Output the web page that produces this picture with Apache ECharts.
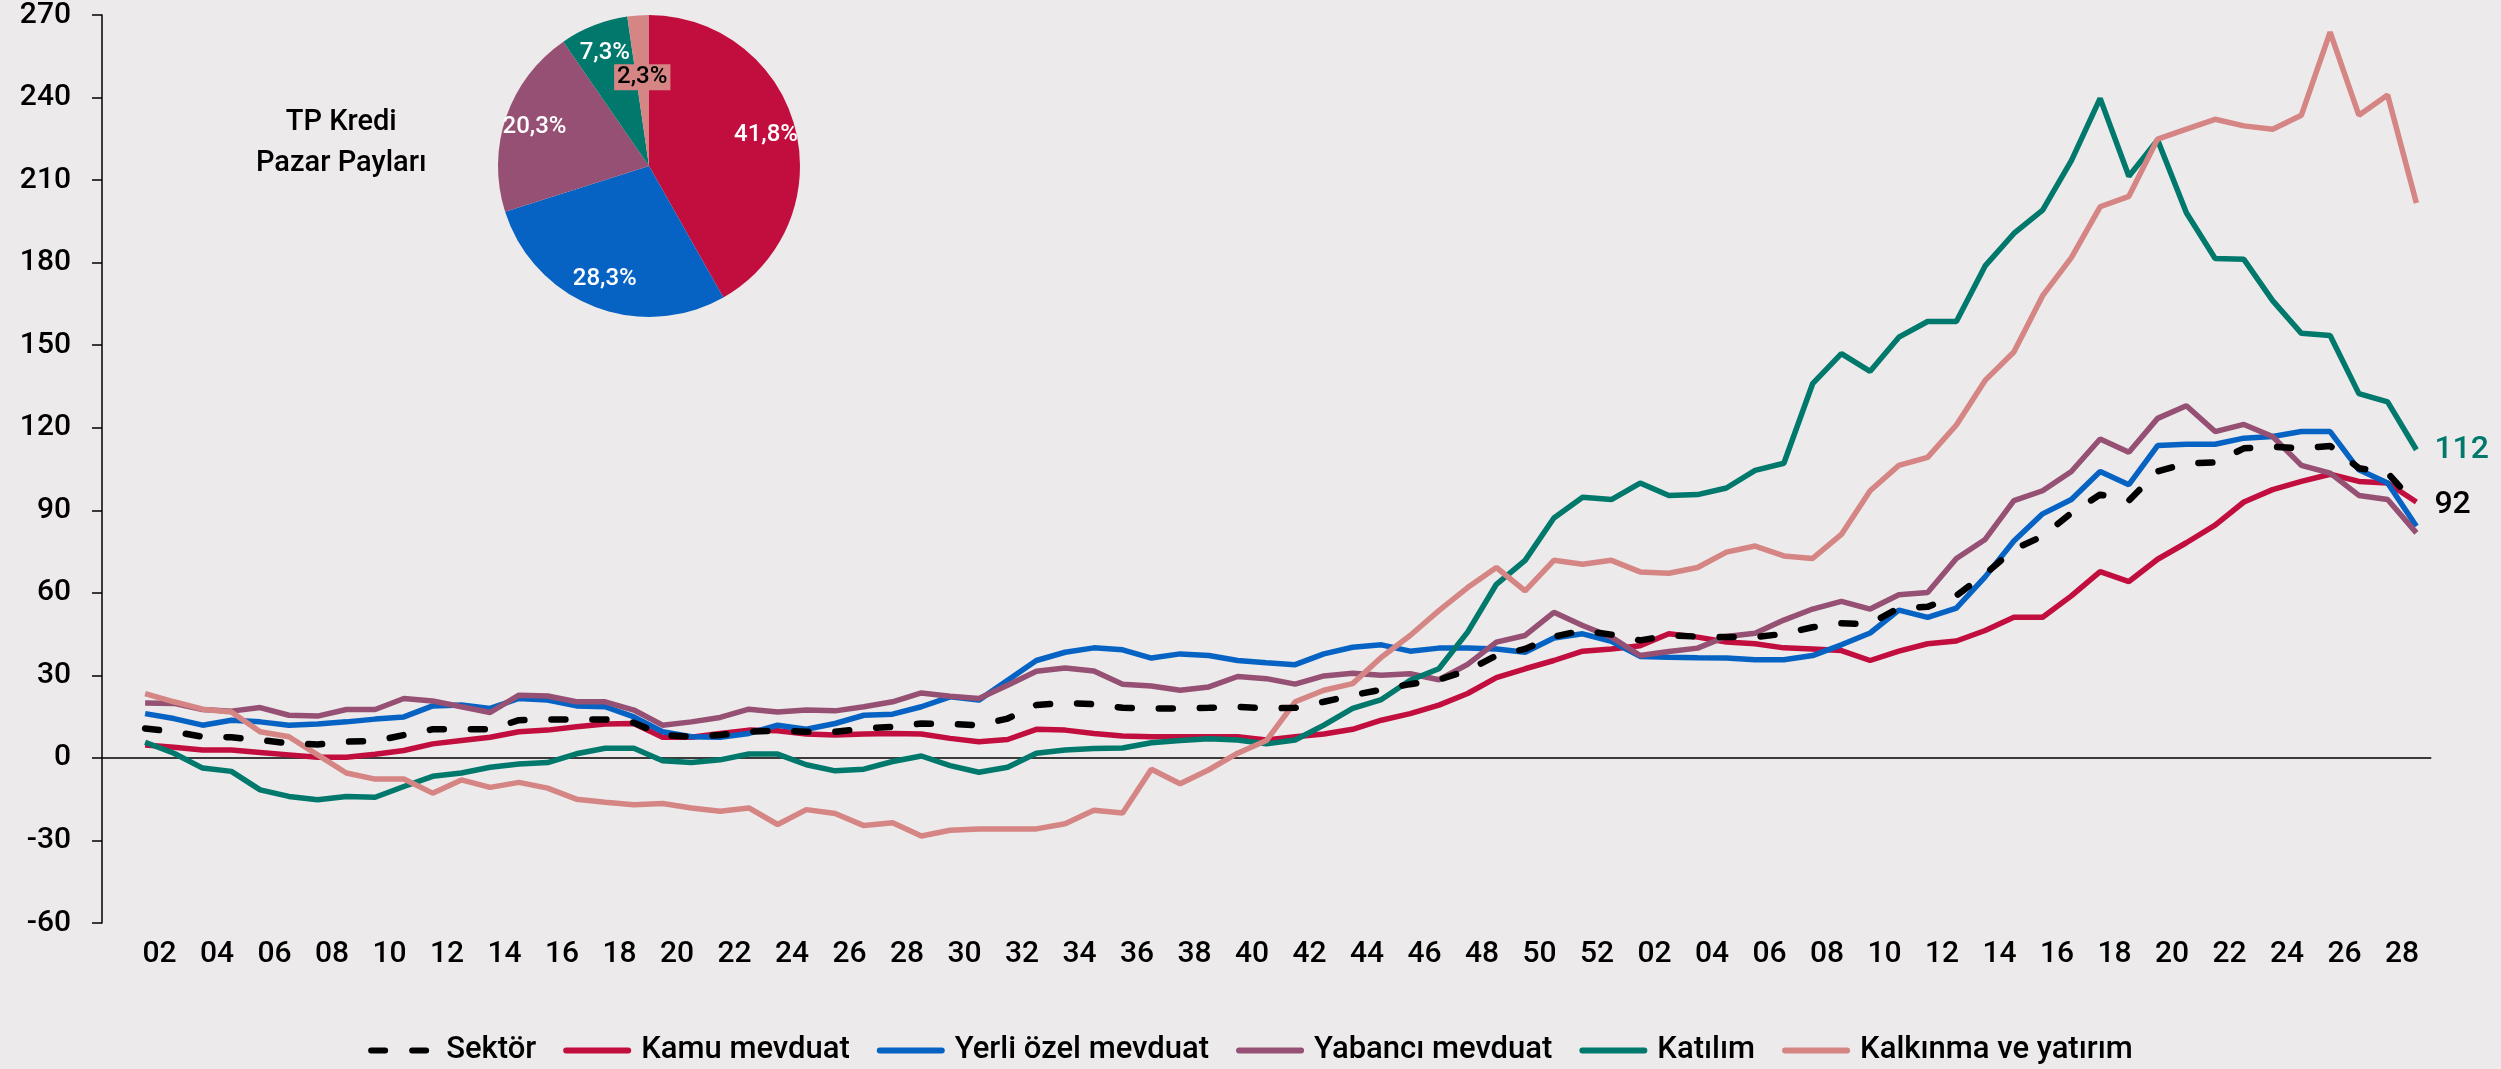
<!DOCTYPE html>
<html>
<head>
<meta charset="utf-8">
<script src="https://cdn.jsdelivr.net/npm/echarts@6/dist/echarts.min.js"></script>
<style>
html, body { margin: 0; padding: 0; background: #ECEAEA; }
#main { width: 2501px; height: 1069px; }
</style>
</head>
<body>
<div id="main"></div>
<script>
// hafta etiketleri (ilk kategori bos, cizgi bir bant iceriden baslar)
var weeks = ['',
  '01','02','03','04','05','06','07','08','09','10','11','12','13','14','15','16','17','18','19','20',
  '21','22','23','24','25','26','27','28','29','30','31','32','33','34','35','36','37','38','39','40',
  '41','42','43','44','45','46','47','48','49','50','51','52',
  '01','02','03','04','05','06','07','08','09','10','11','12','13','14','15','16','17','18','19','20',
  '21','22','23','24','25','26','27','28'];

var sektor = [10.7,9.5,7.7,7.5,6.5,5.3,4.9,5.9,6.1,8.3, 10.4,10.4,10.4,13.7,14,14,14,12.8,8.3,7.7,
  8.3,9.5,9.9,9.5,9.5,10.7,11.3,12.5,12.3,11.9, 14.3,19.2,20,19.5,18.2,18,18,18.2,18.6,18,
  18.2,20.4,22.8,24.8,26.8,28.4,31.8,37.2,39.6,44.1, 46.3,44.8,42.7,44.5,44.1,43.9,43.9,45.1,47.5,48.9,
  48.7,54.5,54.9,59,66.8,75.8,80.6,89,95.7,93.5, 104.1,107.1,107.4,112.5,113.1,112.5,113.4,105.3,103.5,92];
var kamu = [4.7,3.9,2.9,2.9,2,1.1,0.2,0.2,1.3,2.7, 5.1,6.3,7.5,9.5,10.1,11.3,12.3,12.5,7.5,7.5,
  8.9,10.1,9.9,8.7,8.3,8.7,8.9,8.7,7.1,5.9, 6.7,10.4,10.1,8.9,8,7.7,7.7,7.7,7.7,6.5,
  7.7,8.7,10.4,13.7,16.1,19.2,23.4,29.2,32.4,35.4, 38.8,39.6,40.8,45.1,43.9,42.1,41.5,40,39.6,39,
  35.4,38.8,41.5,42.5,46.3,51.1,51.1,58.9,67.7,64.1, 72.2,78.2,84.6,93,97.5,100.5,103.1,100.5,99.9,93];
var yerli = [16.1,14.3,11.9,13.7,13.1,11.9,12.3,13.1,14.1,14.9, 18.9,19.2,18,21.6,21,18.9,18.6,14.9,9.5,7.7,
  7.5,8.9,11.9,10.4,12.5,15.5,15.9,18.6,22.2,21, 28.2,35.4,38.4,40,39.3,36.3,37.8,37.2,35.4,34.6,
  33.9,37.8,40.2,41.1,38.8,39.9,39.9,39.6,38.4,43.6, 45.1,42.4,36.9,36.6,36.4,36.3,35.7,35.7,37.2,41.1,
  45.4,53.7,51.1,54.4,65.8,78.8,88.7,93.9,104.1,99.3, 113.5,114,114,116.2,116.8,118.6,118.6,104.7,99.9,84.2];
var yabanci = [20,19.8,17.6,17,18.3,15.5,15.2,17.6,17.6,21.6, 20.7,18.6,16.5,22.8,22.5,20.4,20.4,17.4,11.9,13.1,
  14.7,17.7,16.7,17.4,17.1,18.6,20.4,23.6,22.4,21.6, 26.4,31.5,32.7,31.6,26.8,26.1,24.6,25.8,29.6,28.8,
  26.8,29.8,30.8,30,30.6,28.4,34,42.1,44.5,52.9, 48.1,43.9,37.2,38.7,39.9,44.1,45.3,50.1,54.1,56.9,
  54.1,59.3,60.1,72.5,79.4,93.5,97.1,104.1,115.9,111.1, 123.4,128,118.6,121.2,116.8,106.3,103.5,95.4,93.9,81.8];
var katilim = [5.7,1.7,-3.7,-4.9,-11.6,-14,-15.2,-14,-14.3,-10.4, -6.7,-5.5,-3.4,-2.2,-1.7,1.5,3.5,3.5,-1,-1.7,
  -0.7,1.4,1.4,-2.5,-4.7,-4.1,-1.3,0.7,-2.8,-5.2, -3.4,1.7,2.9,3.4,3.6,5.5,6.3,7,6.5,5.1,
  6.5,11.9,18,21.2,28.2,32.4,45.7,63.1,71.8,87.2, 94.7,93.9,99.9,95.4,95.7,98.1,104.5,107.1,136,146.9,
  140.5,152.9,158.6,158.6,178.8,190.6,199.1,217.1,239.7,211.4, 224.6,198.1,181.5,181.2,166.2,154.3,153.5,132.4,129.4,112];
var kalkinma = [23.4,20.4,17.7,16.7,9.5,7.7,1.1,-5.5,-7.7,-7.7, -12.8,-8,-10.7,-8.9,-11,-15,-16.1,-17,-16.6,-18.2,
  -19.4,-18.2,-24.2,-18.8,-20.2,-24.6,-23.6,-28.4,-26.3,-25.8, -25.8,-25.8,-23.9,-19,-20,-4.1,-9.4,-4.3,1.7,6.3,
  20.4,24.6,27,36.6,44.5,53.5,61.9,69.2,60.7,71.8, 70.4,71.8,67.6,67.1,69.2,74.8,77,73.4,72.5,81.2,
  97.1,106.3,109.2,121,137.2,147.5,168,181.8,200.3,204.1, 224.9,228.5,232.1,229.7,228.5,233.6,263.8,233.6,240.9,201.7];

// pazar paylari (%)
var payNames = ['Kamu mevduat', 'Yerli özel mevduat', 'Yabancı mevduat', 'Katılım', 'Kalkınma ve yatırım'];
var payValues = [41.8, 28.3, 20.3, 7.3, 2.3];

var C_KAMU = '#C20E3E', C_YERLI = '#0663C4', C_YAB = '#955073', C_KAT = '#00786C', C_KALK = '#D58584';
var FONT = 'Roboto';

var unChart = echarts.init(document.getElementById('main'));

function seri(name, values, color, opts) {
  var s = {
    name: name,
    type: 'line',
    data: [null].concat(values),
    symbol: 'none',
    smooth: false,
    lineStyle: { color: color, width: 5.5 },
    itemStyle: { color: color },
    emphasis: { disabled: true }
  };
  for (var k in opts) s[k] = opts[k];
  return s;
}

function yuzde(p) {
  return p.value.toFixed(1).replace('.', ',') + '%';
}

var pieColors = [C_KAMU, C_YERLI, C_YAB, C_KAT, C_KALK];
var pieData = [], pieLabels = [];
for (var i = 0; i < payNames.length; i++) {
  pieData.push({ name: payNames[i], value: payValues[i], itemStyle: { color: pieColors[i] } });
  var lbl = { name: payNames[i], value: payValues[i] };
  if (i == 4) {
    lbl.label = { color: '#000', backgroundColor: C_KALK, padding: [2, 3, 0, 3] };
  }
  pieLabels.push(lbl);
}

var options = {
  backgroundColor: '#ECEAEA',
  animation: false,
  textStyle: { fontFamily: FONT },
  grid: { left: 102, right: 70.25, top: 15, bottom: 146 },
  legend: {
    data: ['Sektör', 'Kamu mevduat', 'Yerli özel mevduat', 'Yabancı mevduat', 'Katılım', 'Kalkınma ve yatırım'],
    left: 'center',
    top: 1030,
    itemWidth: 62,
    itemHeight: 20,
    itemGap: 27,
    selectedMode: false,
    itemStyle: { opacity: 0 },
    lineStyle: { width: 6, cap: 'round' },
    textStyle: { fontFamily: FONT, fontSize: 31, fontWeight: 500, color: '#000', padding: [0, 0, 0, 8] }
  },
  xAxis: [{
    type: 'category',
    data: weeks,
    boundaryGap: true,
    axisLine: { onZero: true, lineStyle: { color: '#000', width: 1.5 } },
    axisTick: { interval: 1, length: 10, lineStyle: { color: '#000', width: 1.5 } },
    axisLabel: { show: false }
  }, {
    type: 'category',
    data: weeks,
    position: 'bottom',
    boundaryGap: true,
    axisLine: { show: false, onZero: false },
    axisTick: { show: false },
    axisLabel: {
      interval: 1, margin: 16, fontFamily: FONT, fontSize: 30, fontWeight: 500, color: '#000',
      padding: [0, 28.75, 0, 0]
    }
  }],
  yAxis: {
    type: 'value',
    min: -60, max: 270, interval: 30,
    axisLine: { show: true, lineStyle: { color: '#000', width: 1.5 } },
    axisTick: { show: true, length: 10, lineStyle: { color: '#000', width: 1.5 } },
    splitLine: { show: false },
    axisLabel: { fontFamily: FONT, fontSize: 30, fontWeight: 500, color: '#000', margin: 31 }
  },
  graphic: [{
    type: 'text',
    left: 336 - 80, top: 102,
    style: {
      text: 'TP Kredi\nPazar Payları',
      x: 80, y: 0,
      textAlign: 'center',
      fontFamily: FONT, fontSize: 29, fontWeight: 500, lineHeight: 41, fill: '#000'
    }
  }],
  series: [
    seri('Kamu mevduat', kamu, C_KAMU),
    seri('Yerli özel mevduat', yerli, C_YERLI),
    seri('Yabancı mevduat', yabanci, C_YAB),
    seri('Katılım', katilim, C_KAT, {
      endLabel: {
        show: true, distance: 18, color: C_KAT, fontFamily: FONT, fontSize: 32, fontWeight: 500,
        formatter: function (p) { return Math.round(p.value); }
      }
    }),
    seri('Kalkınma ve yatırım', kalkinma, C_KALK),
    seri('Sektör', sektor, '#000', {
      z: 5,
      lineStyle: { color: '#000', width: 6.5, type: [14, 27], cap: 'round' },
      endLabel: {
        show: true, distance: 18, color: '#000', fontFamily: FONT, fontSize: 32, fontWeight: 500,
        formatter: function (p) { return Math.round(p.value); }
      }
    }),
    {
      name: 'pay',
      type: 'pie',
      center: [649, 166],
      radius: [0, 151],
      startAngle: 90,
      silent: true,
      label: { show: false },
      labelLine: { show: false },
      data: pieData,
      z: 6
    },
    {
      name: 'payEtiket',
      type: 'pie',
      center: [649, 166],
      radius: [85, 151],
      startAngle: 90,
      silent: true,
      itemStyle: { color: 'rgba(0,0,0,0)' },
      label: {
        show: true, position: 'inside', color: '#fff',
        fontFamily: FONT, fontSize: 24, fontWeight: 500, formatter: yuzde
      },
      labelLine: { show: false },
      labelLayout: function (p) {
        if (p.dataIndex == 4) return { dx: 2, dy: 32 };
      },
      data: pieLabels,
      z: 7
    }
  ]
};
unChart.setOption(options);
</script>
</body>
</html>
